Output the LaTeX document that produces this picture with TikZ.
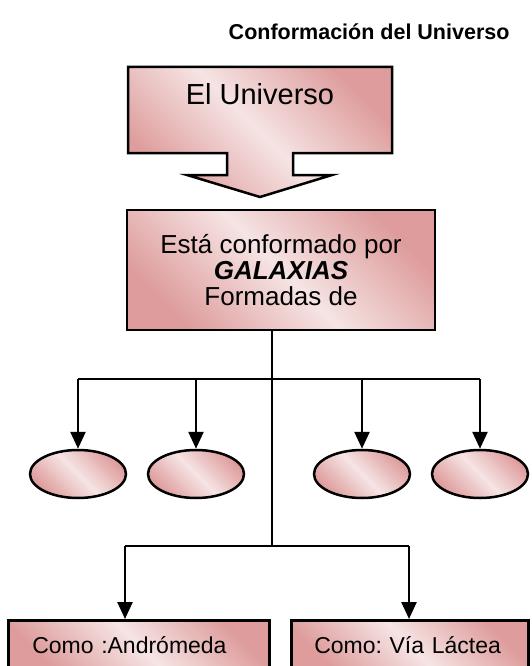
\documentclass[tikz,border=0pt]{standalone}
\usepackage{fontspec}
\setmainfont{Liberation Sans}
\usepackage{xcolor}
\usepackage{tikz}
\usetikzlibrary{arrows.meta,positioning,shapes,calc}
\definecolor{rosaosc}{RGB}{222,156,156}
\definecolor{rosacla}{RGB}{246,228,228}
\frenchspacing

\begin{document}
\begin{tikzpicture}[x = 1pt, y = -1pt,
    rosado/.style = {draw, line width = 2.5pt, top color = rosaosc, bottom color = rosaosc, middle color = rosacla, shading angle = -45},
    caja/.style = {rosado, rectangle, inner sep = 0pt},
    burbuja/.style = {rosado, ellipse, minimum width = 96pt, minimum height = 48pt},
    flecha/.style = {line width = 2.5pt, -{Triangle[length = 17pt, width = 15pt]}},
    linea/.style = {line width = 2.5pt}]
    \clip (0,0) rectangle (531,666);
    \node[anchor = base east, font = \fontsize{21.5}{21.5}\selectfont\bfseries] (titulo) at (513,40) {Conformación del Universo};
    % caja con flecha hacia abajo
    \path[rosado, line join = miter] (128,67) -- (392,67) -- (392,153) -- (293,153) -- (293,175) -- (332,175) -- (260,197) -- (187,175) -- (227,175) -- (227,153) -- (128,153) -- cycle;
    \node[anchor = base, font = \fontsize{29}{29}\selectfont] (universo) at (260,105) {El Universo};
    \node[caja, minimum width = 308pt, minimum height = 120pt, align = center, font = \fontsize{26}{26}\selectfont] (galaxias) at (281,270) {Está conformado por\\\textbf{\textit{GALAXIAS}}\\Formadas de};
    % tipos de galaxias
    \node[burbuja] (e1) at (78,474) {};
    \node[burbuja] (e2) at (196,474) {};
    \node[burbuja] (e3) at (362,474) {};
    \node[burbuja] (e4) at (480,474) {};
    \coordinate (rama1) at (272,379);
    \coordinate (rama2) at (272,546);
    \draw[linea] (rama1 |- galaxias.south) -- (rama2);
    \draw[linea] (e1 |- rama1) -- (e4 |- rama1);
    \foreach \e in {e1,e2,e3,e4}
        \draw[flecha] (\e |- rama1) -- (\e.north);
    % ejemplos
    \node[caja, anchor = north west, minimum height = 50pt, inner xsep = 24pt, text width = 213pt, align = left, font = \fontsize{23}{23}\selectfont] (andromeda) at (7,619) {Como :Andrómeda};
    \node[caja, anchor = north west, minimum height = 50pt, inner xsep = 23pt, text width = 191pt, align = left, font = \fontsize{23}{23}\selectfont] (lactea) at (290,619) {Como: Vía Láctea};
    \coordinate (izq) at (125,546);
    \coordinate (der) at (409,546);
    \draw[linea] (izq) -- (der);
    \draw[flecha] (izq) -- (izq |- andromeda.north);
    \draw[flecha] (der) -- (der |- lactea.north);
\end{tikzpicture}
\end{document}
